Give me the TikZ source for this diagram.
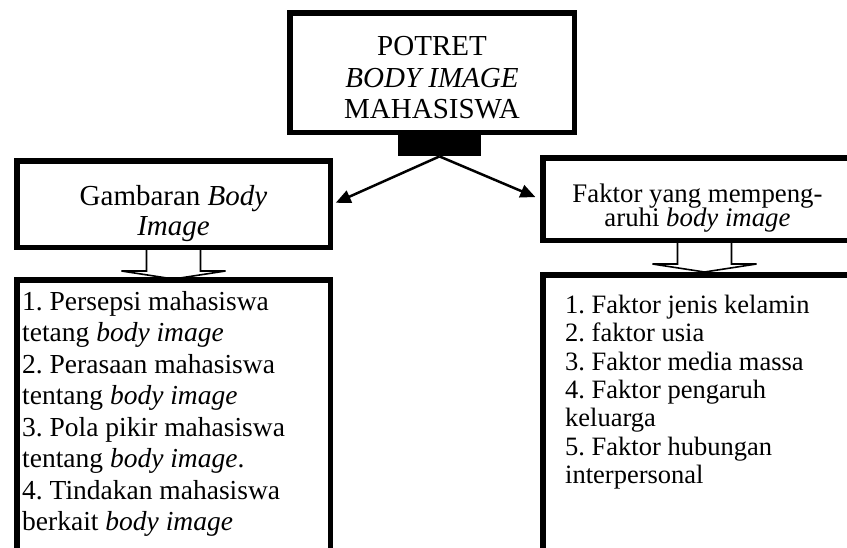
\documentclass[tikz,border=0pt]{standalone}
\usepackage{fontspec}
\setmainfont{Liberation Serif}
\usetikzlibrary{positioning,calc,arrows.meta}
\frenchspacing

\begin{document}
\begin{tikzpicture}[x=1pt, y=-1pt,
    kotak/.style={draw, line width=5.5pt, inner sep=0pt, align=center},
    daftar/.style={inner sep=0pt, align=left, anchor=north west},
    panah/.style={line width=2.5pt, -{Triangle[length=15pt, width=13pt]}},
    panahkosong/.style={line width=1.6pt, line join=miter}]
    \clip (0,0) rectangle (847,547);

    % kotak judul
    \node[kotak, minimum width=284.5, minimum height=119.5, text height=93pt,
          font=\fontsize{29}{31.5}\selectfont] (potret) at (432,72.5)
        {POTRET\\ \textit{BODY IMAGE}\\ MAHASISWA};
    \node[fill=black, minimum width=83, minimum height=23, inner sep=0pt,
          below=-2pt of potret, xshift=7.5pt] (tiang) {};

    % dua kotak di bawahnya
    \node[kotak, minimum width=313.5, minimum height=86.5, text height=70pt,
          font=\fontsize{29}{30}\selectfont] (gambaran) at (173.5,204)
        {Gambaran \textit{Body}\\ \textit{Image}};
    \node[kotak, minimum width=309.5, minimum height=82.5, text height=60.8pt,
          font={\fontsize{26.8}{24.5}\selectfont\setlength{\lineskiplimit}{-5pt}}]
          (faktor) at (697.5,199)
        {Faktor yang mempeng-\\ aruhi \textit{body image}};

    \draw[panah, shorten >=3pt] (tiang.south) -- (gambaran.east);
    \draw[panah, shorten >=5pt] (tiang.south) -- (faktor.west);

    % -------------------------------------------------------------
    % kotak isi
    % -------------------------------------------------------------
    \node[kotak, minimum width=313.5, minimum height=337.5,
          below=27pt of gambaran] (isikiri) {};
    \node[kotak, minimum width=309.5, minimum height=342.5,
          below=29pt of faktor] (isikanan) {};

    % panah kosong
    \foreach \b/\d in {gambaran/0, faktor/7} {
        \draw[panahkosong] ($(\b.south)+(\d-27,0)$) -- ++(0,21) -- ++(-25,0)
            -- ++(52,8) -- ++(52,-8) -- ++(-25,0) -- ++(0,-21);
    }

    \node[daftar, font=\fontsize{27.5}{31.5}\selectfont,
          below right=14pt and 8pt of isikiri.north west] (teksKiri)
        {1. Persepsi mahasiswa\\ tetang \textit{body image}\\
         2. Perasaan mahasiswa\\ tentang \textit{body image}\\
         3. Pola pikir mahasiswa\\ tentang \textit{body image}.\\
         4. Tindakan mahasiswa\\ berkait \textit{body image}};
    \node[daftar, font=\fontsize{26.5}{28.3}\selectfont,
          below right=23pt and 25pt of isikanan.north west] (teksKanan)
        {1. Faktor jenis kelamin\\ 2. faktor usia\\
         3. Faktor media massa\\ 4. Faktor pengaruh\\ keluarga\\
         5. Faktor hubungan\\ interpersonal};

\end{tikzpicture}
\end{document}
